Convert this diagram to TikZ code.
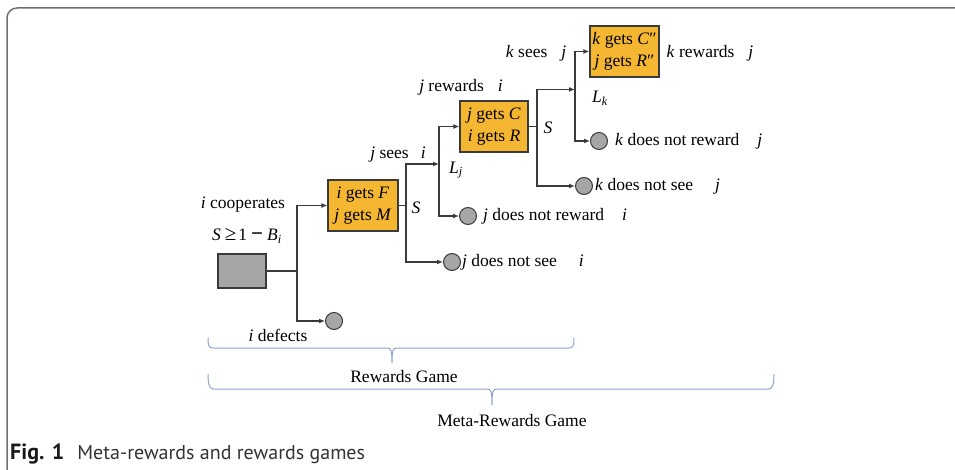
\documentclass[tikz,border=0pt]{standalone}
\usepackage{fontspec}
\setmainfont{Liberation Serif}
\newfontfamily\capfont{PT Sans}
\usetikzlibrary{arrows.meta,positioning}
\definecolor{Payoff}{HTML}{F5B631}
\definecolor{Leaf}{HTML}{A6A6A6}
\definecolor{Wire}{HTML}{3A3A3A}
\definecolor{BraceBlue}{HTML}{8EA1D2}
\definecolor{Frame}{HTML}{707070}
\newcommand{\pl}[1]{\textit{#1}}

\begin{document}
\begin{tikzpicture}[
    x=1pt, y=-1pt,
    font=\fontsize{17.5}{21.5}\selectfont,
    box/.style={draw=Wire, line width=1.2pt, fill=Payoff, align=center, minimum height=51, inner sep=1pt},
    leaf/.style={circle, draw=Wire, line width=1pt, fill=Leaf, minimum size=17, inner sep=0pt},
    lbl/.style={inner sep=1pt},
    ln/.style={Wire, line width=1.2pt},
    arr/.style={-{Latex[length=6pt,width=5pt]}, Wire, line width=1.2pt},
    brc/.style={BraceBlue, line width=1pt}
  ]
    \useasboundingbox (0,0) rectangle (955,470);
    \draw[Frame, line width=1.5pt, rounded corners=10pt] (7,470) -- (7,8) -- (956,8);

    % first move
    \node[draw=Wire, line width=1.2pt, fill=Leaf, minimum width=48, minimum height=34] (root) at (242,271) {};
    \node[lbl] (coop) at (243,205) {\pl{i} cooperates};
    \node[lbl] (cond) at (247,236) {\pl{S}\hspace{4pt}{\fontsize{21}{21}\selectfont ≥}\hspace{2pt}1\hspace{4pt}{\fontsize{21}{21}\selectfont\bfseries −}\hspace{4pt}\pl{B}\textsubscript{\pl{i}}};
    \node[leaf] (def) at (334,321) {};
    \node[lbl] (deflbl) at (278,335) {\pl{i} defects};
    \coordinate (si) at (297,271);

    % rewards stage
    \node[box, minimum width=70] (gf) at (363,205.5) {\pl{i} gets \pl{F}\\\pl{j} gets \pl{M}};
    \coordinate (sj) at (406,205.5);
    \coordinate (lj) at (439,164);
    \node[lbl] at (416,208) {\pl{S}};
    \node[lbl] (jsees) at (398,155) {\pl{j} sees\hspace{12pt}\pl{i}};
    \node[lbl] at (456,170) {\pl{L}\textsubscript{\pl{j}}};
    \node[leaf] (nsj) at (452,262) {};
    \node[lbl, right=0pt of nsj] {\pl{j} does not see\hspace{22pt}\pl{i}};
    \node[leaf] (nrj) at (468,216) {};
    \node[lbl, right=5pt of nrj] {\pl{j} does not reward\hspace{18pt}\pl{i}};
    \node[box, minimum width=68] (gc) at (494,126.5) {\pl{j} gets \pl{C}\\\pl{i} gets \pl{R}};
    \node[lbl] (jrew) at (461,87) {\pl{j} rewards\hspace{14pt}\pl{i}};

    % meta-rewards stage
    \coordinate (sk) at (537,126.5);
    \coordinate (lk) at (575,89.5);
    \node[lbl] at (548,128) {\pl{S}};
    \node[lbl] (ksees) at (536,53) {\pl{k} sees\hspace{14pt}\pl{j}};
    \node[lbl] at (600,98) {\pl{L}\textsubscript{\pl{k}}};
    \node[leaf] (nsk) at (584,186) {};
    \node[lbl, right=1pt of nsk] {\pl{k} does not see\hspace{22pt}\pl{j}};
    \node[leaf] (nrk) at (599,141) {};
    \node[lbl, right=6pt of nrk] {\pl{k} does not reward\hspace{18pt}\pl{j}};
    \node[box, minimum width=69] (gcc) at (624.5,51.5) {\pl{k} gets \pl{C}″\\\pl{j} gets \pl{R}″};
    \node[lbl] (krew) at (710,53) {\pl{k} rewards\hspace{14pt}\pl{j}};

    \draw[ln] (root) -- (si);
    \draw[arr] (si) |- (gf.west);
    \draw[arr] (si) |- (def.west);
    \draw[ln] (gf.east) -- (sj);
    \draw[arr] (sj) |- (lj);
    \draw[arr] (sj) |- (nsj.west);
    \draw[arr] (lj) |- (gc.west);
    \draw[arr] (lj) |- (nrj.west);
    \draw[ln] (gc.east) -- (sk);
    \draw[arr] (sk) |- (lk);
    \draw[arr] (sk) |- (nsk.west);
    \draw[arr] (lk) |- (gcc.west);
    \draw[arr] (lk) |- (nrk.west);

    % braces
    \draw[brc] (208,338) .. controls (208,346) and (209,348) .. (213,348) -- (387,348)
      .. controls (391,348) and (392,350) .. (392,363)
      .. controls (392,350) and (393,348) .. (397,348) -- (569,348)
      .. controls (573,348) and (574,346) .. (574,338);
    \node[lbl] (rg) at (404,377) {Rewards Game};
    \draw[brc] (208,374) .. controls (208,382) and (209,389) .. (213,389) -- (487,389)
      .. controls (491,389) and (492,391) .. (492,405)
      .. controls (492,391) and (493,389) .. (497,389) -- (769,389)
      .. controls (773,389) and (774,382) .. (774,374);
    \node[lbl] (mrg) at (512,421) {Meta-Rewards Game};

    \node[anchor=base west, inner sep=0pt, font=\capfont\fontsize{20}{22}\selectfont, text=black!80]
      (cap) at (10,459) {{\bfseries\color{black!90}\fontsize{22}{22}\selectfont Fig. 1}\hspace{13pt}Meta-rewards and rewards games};
  \end{tikzpicture}
\end{document}
